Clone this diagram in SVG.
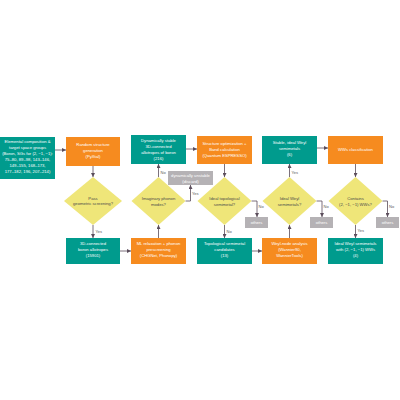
<svg xmlns="http://www.w3.org/2000/svg" width="400" height="400" viewBox="0 0 400 400">
<defs>
<style>
.teal{fill:#009B8D}
.orange{fill:#F68B1F}
.dia{fill:#EFE679}
.gray{fill:#B5B2B5}
text{font-family:"Liberation Sans","Open Sans",sans-serif;font-size:4.2px;text-anchor:middle}
.w{fill:#ffffff}
.d{fill:#4A4A4A}
.lbl{fill:#5A5A5A;text-anchor:start;font-size:4px}
.c{fill:none;stroke:#5B4D5B;stroke-width:0.8;marker-end:url(#ah)}
</style>
<marker id="ah" markerUnits="userSpaceOnUse" markerWidth="4" markerHeight="4" viewBox="0 0 4 4" refX="4" refY="2" orient="auto">
<path d="M0,0 L4,2 L0,4 z" fill="#5B4D5B"/>
</marker>
</defs>
<rect width="400" height="400" fill="#ffffff"/>

<g id="connectors">
<path class="c" d="M55,150 H66"/>
<path class="c" d="M93,166 V177"/>
<path class="c" d="M93,225 V238"/>
<path class="c" d="M120,251 H131"/>
<path class="c" d="M158.5,238 V225"/>
<path class="c" d="M158.5,177 V164"/>
<path class="c" d="M185.5,201 H190.5 V185"/>
<path class="c" d="M186,149 H197"/>
<path class="c" d="M224.5,164 V177"/>
<path class="c" d="M224.5,225 V238"/>
<path class="c" d="M251.5,201 H257 V217"/>
<path class="c" d="M252,251 H262"/>
<path class="c" d="M289.5,238 V225"/>
<path class="c" d="M289.5,177 V164"/>
<path class="c" d="M316.5,201 H322 V217"/>
<path class="c" d="M317,148 H328"/>
<path class="c" d="M355.5,164 V177"/>
<path class="c" d="M355.5,225 V238"/>
<path class="c" d="M382.5,201 H387.5 V217"/>
<text class="lbl" x="95.5" y="233">Yes</text>
<text class="lbl" x="160.5" y="174">No</text>
<text class="lbl" x="192" y="195">Yes</text>
<text class="lbl" x="226.5" y="233">No</text>
<text class="lbl" x="258.5" y="208">No</text>
<text class="lbl" x="291.5" y="174">Yes</text>
<text class="lbl" x="323.5" y="208">No</text>
<text class="lbl" x="357.5" y="232">Yes</text>
<text class="lbl" x="389" y="208">No</text>
</g>

<g id="n-input">
<rect class="teal" x="0" y="137" width="55" height="42"/>
<text class="w" x="27.5" y="143">Elemental composition &amp;</text>
<text class="w" x="27.5" y="149">target space groups</text>
<text class="w" x="27.5" y="155">(Boron, SGs for (2, −1, −1):</text>
<text class="w" x="27.5" y="161">75–80, 89–98, 143–146,</text>
<text class="w" x="27.5" y="167">149–155, 168–173,</text>
<text class="w" x="27.5" y="173">177–182, 196, 207–214)</text>
</g>

<g id="n-random">
<rect class="orange" x="66" y="137" width="54" height="29"/>
<text class="w" x="93" y="146">Random structure</text>
<text class="w" x="93" y="152">generation</text>
<text class="w" x="93" y="158">(PyXtal)</text>
</g>

<g id="n-pass">
<polygon class="dia" points="93,177 122,201 93,225 64,201"/>
<text class="d" x="93" y="199.5">Pass</text>
<text class="d" x="93" y="205">geometric screening?</text>
</g>

<g id="n-3d">
<rect class="teal" x="66" y="238" width="54" height="26"/>
<text class="w" x="93" y="245">3D-connected</text>
<text class="w" x="93" y="251">boron allotropes</text>
<text class="w" x="93" y="257">(15901)</text>
</g>

<g id="n-ml">
<rect class="orange" x="131" y="238" width="55" height="26"/>
<text class="w" x="158.5" y="245">ML relaxation + phonon</text>
<text class="w" x="158.5" y="251">prescreening</text>
<text class="w" x="158.5" y="257">(CHGNet, Phonopy)</text>
</g>

<g id="n-imag">
<polygon class="dia" points="158.5,177 185.5,201 158.5,225 131.5,201"/>
<text class="d" x="158.5" y="200">Imaginary phonon</text>
<text class="d" x="158.5" y="205.5">modes?</text>
</g>

<g id="n-discard">
<rect class="gray" x="168" y="171" width="45" height="14"/>
<text class="w" x="190.5" y="177">dynamically unstable</text>
<text class="w" x="190.5" y="182.5">(discard)</text>
</g>

<g id="n-stable">
<rect class="teal" x="131" y="135" width="55" height="29"/>
<text class="w" x="158.5" y="142">Dynamically stable</text>
<text class="w" x="158.5" y="148">3D-connected</text>
<text class="w" x="158.5" y="154">allotropes of boron</text>
<text class="w" x="158.5" y="160">(216)</text>
</g>

<g id="n-opt">
<rect class="orange" x="197" y="136" width="55" height="28"/>
<text class="w" x="224.5" y="145">Structure optimization +</text>
<text class="w" x="224.5" y="151">Band calculation</text>
<text class="w" x="224.5" y="157">(Quantum ESPRESSO)</text>
</g>

<g id="n-ideal-topo">
<polygon class="dia" points="224.5,177 251.5,201 224.5,225 197.5,201"/>
<text class="d" x="224.5" y="200">Ideal topological</text>
<text class="d" x="224.5" y="205.5">semimetal?</text>
</g>

<g id="n-others1">
<rect class="gray" x="245" y="217" width="23" height="11"/>
<text class="w" x="256.5" y="223.8">others</text>
</g>

<g id="n-topo">
<rect class="teal" x="197" y="238" width="55" height="26"/>
<text class="w" x="224.5" y="245">Topological semimetal</text>
<text class="w" x="224.5" y="251">candidates</text>
<text class="w" x="224.5" y="257">(13)</text>
</g>

<g id="n-weylnode">
<rect class="orange" x="262" y="238" width="55" height="26"/>
<text class="w" x="289.5" y="245">Weyl-node analysis</text>
<text class="w" x="289.5" y="251">(Wannier90,</text>
<text class="w" x="289.5" y="257">WannierTools)</text>
</g>

<g id="n-ideal-weyl">
<polygon class="dia" points="289.5,177 316.5,201 289.5,225 262.5,201"/>
<text class="d" x="289.5" y="200">Ideal Weyl</text>
<text class="d" x="289.5" y="205.5">semimetals?</text>
</g>

<g id="n-others2">
<rect class="gray" x="310" y="217" width="23" height="11"/>
<text class="w" x="321.5" y="223.8">others</text>
</g>

<g id="n-stable-weyl">
<rect class="teal" x="262" y="136" width="55" height="28"/>
<text class="w" x="289.5" y="144">Stable, ideal Weyl</text>
<text class="w" x="289.5" y="150">semimetals</text>
<text class="w" x="289.5" y="156">(6)</text>
</g>

<g id="n-wws">
<rect class="orange" x="328" y="136" width="55" height="28"/>
<text class="w" x="355.5" y="151">WWs classification</text>
</g>

<g id="n-contains">
<polygon class="dia" points="355.5,177 382.5,201 355.5,225 328.5,201"/>
<text class="d" x="355.5" y="200">Contains</text>
<text class="d" x="355.5" y="205.5">(2, −1, −1) WWs?</text>
</g>

<g id="n-others3">
<rect class="gray" x="376" y="217" width="23" height="11"/>
<text class="w" x="387.5" y="223.8">others</text>
</g>

<g id="n-final">
<rect class="teal" x="328" y="238" width="55" height="26"/>
<text class="w" x="355.5" y="245">Ideal Weyl semimetals</text>
<text class="w" x="355.5" y="251">with (2, −1, −1) WWs</text>
<text class="w" x="355.5" y="257">(4)</text>
</g>
</svg>
